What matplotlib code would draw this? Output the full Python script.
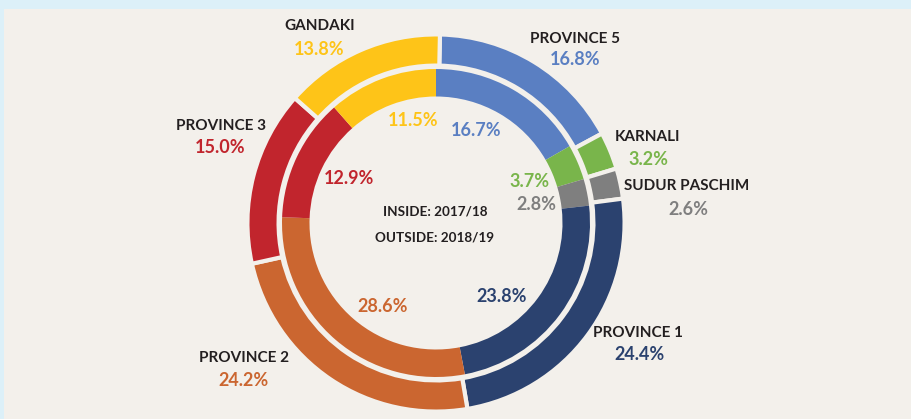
import matplotlib
matplotlib.use("Agg")
import matplotlib.pyplot as plt
from matplotlib.patches import Rectangle

# ---- data ----
provinces = ["PROVINCE 5", "KARNALI", "SUDUR PASCHIM", "PROVINCE 1",
             "PROVINCE 2", "PROVINCE 3", "GANDAKI"]
outer_2018_19 = [16.8, 3.2, 2.6, 24.4, 24.2, 15.0, 13.8]
inner_2017_18 = [16.7, 3.7, 2.8, 23.8, 28.6, 12.9, 11.5]
center_lines = ["INSIDE: 2017/18", "OUTSIDE: 2018/19"]

# ---- style ----
colors = ["#5a7fc2", "#79b54b", "#7f7f7f", "#2b426f", "#cb6630", "#c1252d", "#fec418"]
pct_colors = ["#5a7fc2", "#79b54b", "#7f7f7f", "#2b426f", "#cb6630", "#c1252d", "#fec418"]
name_color = "#231f20"
bg = "#f3f0eb"
border = "#dcf0f8"
FONT = "Lato"

W, H = 912, 419
fig = plt.figure(figsize=(W / 100, H / 100), dpi=100, facecolor=border)
ax = fig.add_axes([0, 0, 1, 1])
ax.set_xlim(0, W)
ax.set_ylim(0, H)
ax.set_aspect("equal")
ax.axis("off")

ax.add_patch(Rectangle((4, 0), W - 4, H - 9, facecolor=bg, edgecolor="none", zorder=0))

cx, cy = 436, H - 223

def Y(y):
    return H - y

# outer ring (2018/19) with gaps
lw = 3.0
lw_px = lw * 100 / 72
ax.pie(outer_2018_19, colors=colors, radius=186.5 + lw_px / 2, center=(cx, cy),
       startangle=90 - 1.2, counterclock=False,
       wedgeprops=dict(width=27 + lw_px, edgecolor=bg, linewidth=lw),
       frame=True)
# inner ring (2017/18), no gaps
ax.pie(inner_2017_18, colors=colors, radius=154, center=(cx, cy),
       startangle=90, counterclock=False,
       wedgeprops=dict(width=27.5, edgecolor="none", linewidth=0),
       frame=True)
ax.set_xlim(0, W)
ax.set_ylim(0, H)
ax.axis("off")

# outer labels: (name x, name y, pct x, pct y) in pixel coords from top
outer_pos = [(575, 39, 575, 59),
             (648, 137, 648, 159),
             (687, 186, 688, 209),
             (638, 333, 640, 355),
             (244, 358, 244, 380),
             (221, 126, 220, 147),
             (320, 26, 319, 49)]
inner_pos = [(476, 130), (530, 181), (536, 204), (502, 297),
             (383, 307), (349, 178), (413, 120)]

name_fs = 11
pct_fs = 13
for i, name in enumerate(provinces):
    nx, ny, px, py = outer_pos[i]
    ax.text(nx, Y(ny), name, ha="center", va="center", fontsize=name_fs,
            fontweight="bold", family=FONT, color=name_color)
    ax.text(px, Y(py), f"{outer_2018_19[i]:.1f}%", ha="center", va="center",
            fontsize=pct_fs, fontweight="bold", family=FONT, color=pct_colors[i])
    ix, iy = inner_pos[i]
    ax.text(ix, Y(iy), f"{inner_2017_18[i]:.1f}%", ha="center", va="center",
            fontsize=pct_fs, fontweight="bold", family=FONT, color=pct_colors[i])

ax.text(435, Y(211), center_lines[0], ha="center", va="center", fontsize=9.7,
        fontweight="bold", family=FONT, color=name_color)
ax.text(435, Y(237), center_lines[1], ha="center", va="center", fontsize=9.7,
        fontweight="bold", family=FONT, color=name_color)

fig.savefig("out.png", dpi=100, facecolor=border)
